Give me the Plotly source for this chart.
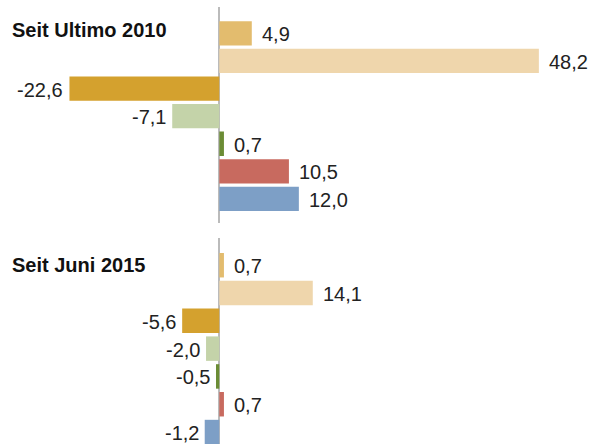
import plotly.graph_objects as go

categories = ["Kategorie 1", "Kategorie 2", "Kategorie 3", "Kategorie 4",
              "Kategorie 5", "Kategorie 6", "Kategorie 7"]
# bar lengths
values_2010 = [4.9, 48.2, -22.6, -7.1, 0.7, 10.5, 12.0]
values_2015 = [0.7, 14.1, -5.6, -2.0, -0.5, 0.7, -2.2]
# value labels as printed in the picture
labels_2010 = ["4,9", "48,2", "-22,6", "-7,1", "0,7", "10,5", "12,0"]
labels_2015 = ["0,7", "14,1", "-5,6", "-2,0", "-0,5", "0,7", "-1,2"]
panel_titles = ["Seit Ultimo 2010", "Seit Juni 2015"]
colors = ["#E3BC6E", "#EFD6AC", "#D4A12E", "#C4D3A9", "#6B8C35", "#C86A5F", "#7D9FC6"]

FONT = "Liberation Sans, Arial, Helvetica, sans-serif"

fig = go.Figure()
fig.add_trace(go.Bar(x=values_2010, y=categories, orientation="h",
                     marker=dict(color=colors, line=dict(width=0)),
                     xaxis="x", yaxis="y", showlegend=False, hoverinfo="skip"))
fig.add_trace(go.Bar(x=values_2015, y=categories, orientation="h",
                     marker=dict(color=colors, line=dict(width=0)),
                     xaxis="x2", yaxis="y2", showlegend=False, hoverinfo="skip"))

annotations = []
for vals, labs, xr, yr in [(values_2010, labels_2010, "x", "y"),
                           (values_2015, labels_2015, "x2", "y2")]:
    for c, v, t in zip(categories, vals, labs):
        annotations.append(dict(
            x=v, y=c, xref=xr, yref=yr, text=t, showarrow=False,
            xanchor="left" if v >= 0 else "right",
            xshift=8 if v >= 0 else -4, yshift=-1,
            font=dict(family=FONT, size=20, color="#222222")))

annotations.append(dict(x=10 / 598, y=1 - 30 / 444, xref="paper", yref="paper",
                        text="<b>" + panel_titles[0] + "</b>", showarrow=False,
                        xanchor="left", yanchor="middle",
                        font=dict(family=FONT, size=20, color="#111111")))
annotations.append(dict(x=10 / 598, y=1 - 265 / 444, xref="paper", yref="paper",
                        text="<b>" + panel_titles[1] + "</b>", showarrow=False,
                        xanchor="left", yanchor="middle",
                        font=dict(family=FONT, size=20, color="#111111")))

xr = [-219.3 / 6.63, (598 - 219.3) / 6.63]
xcommon = dict(range=xr, showgrid=False, showticklabels=False, ticks="",
               zeroline=True, zerolinecolor="#BBBBBB", zerolinewidth=2,
               showline=False, fixedrange=True)
ycommon = dict(showgrid=False, showticklabels=False, ticks="", zeroline=False,
               showline=False, type="category", fixedrange=True)

fig.update_layout(
    width=598, height=444,
    margin=dict(l=0, r=0, t=0, b=0),
    paper_bgcolor="white", plot_bgcolor="white",
    bargap=0.12,
    xaxis=dict(domain=[0, 1], anchor="y", **xcommon),
    xaxis2=dict(domain=[0, 1], anchor="y2", **xcommon),
    yaxis=dict(domain=[1 - 222.7 / 444, 1 - 7 / 444], anchor="x",
               range=[6.86, -0.953], **ycommon),
    yaxis2=dict(domain=[0, 1 - 238.3 / 444], anchor="x2",
                range=[6.43, -0.968], **ycommon),
    annotations=annotations,
    font=dict(family=FONT),
)

fig.write_html("out.html")
